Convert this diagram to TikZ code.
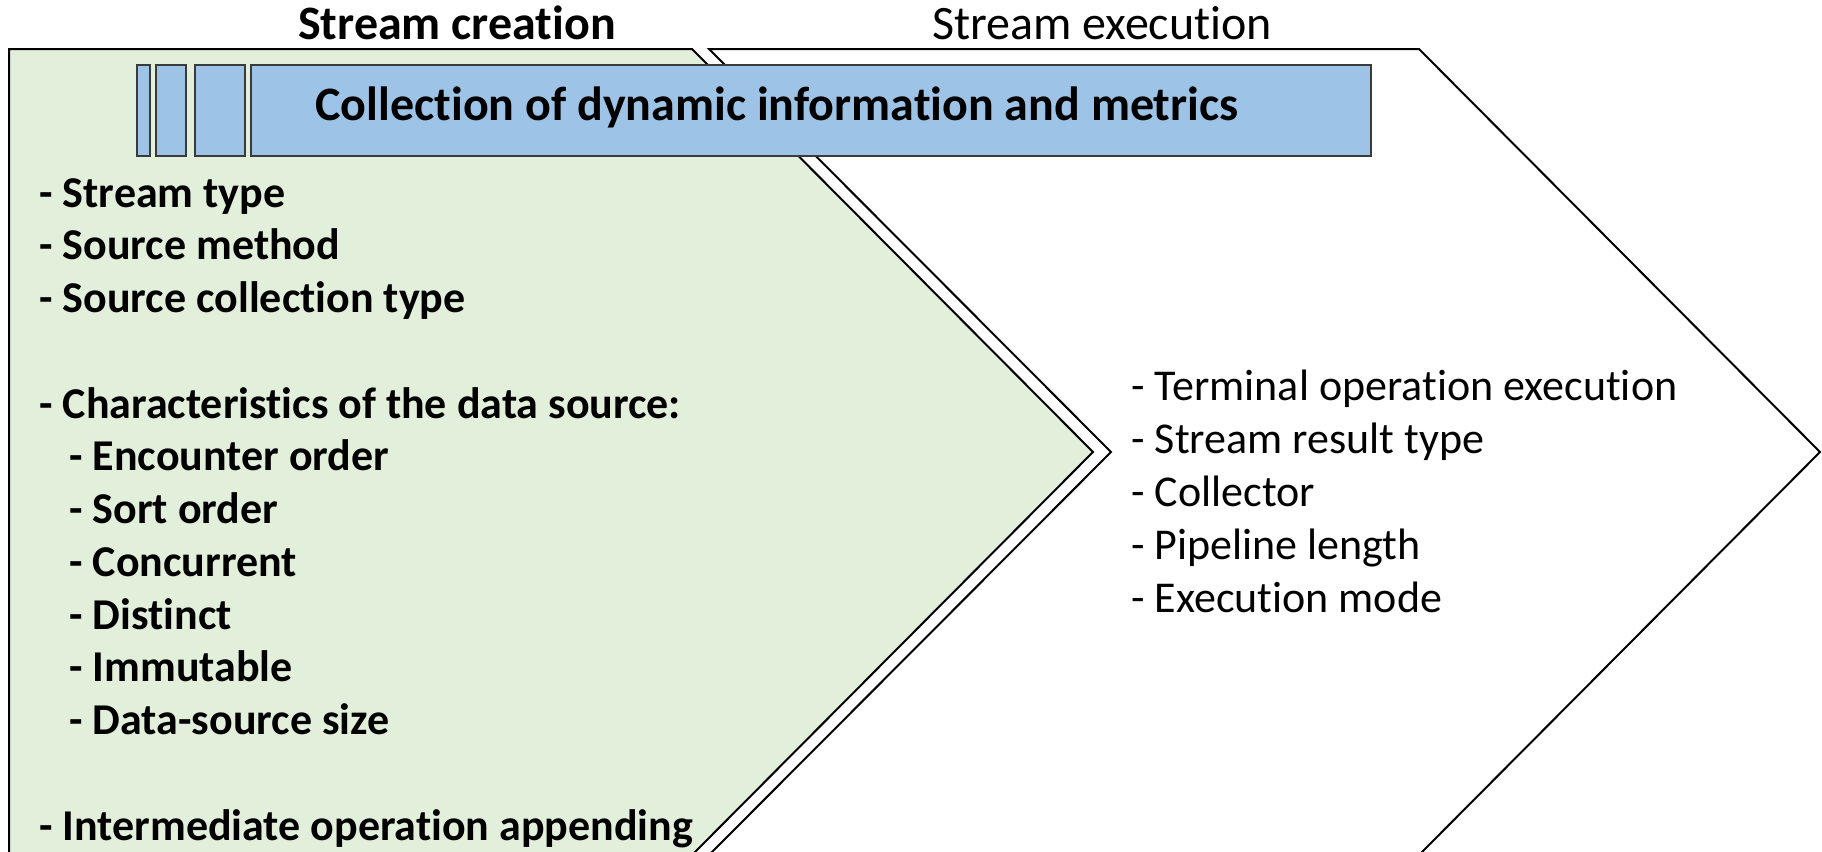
\documentclass[tikz,border=0pt]{standalone}
\usepackage{fontspec}
\setmainfont{Carlito}[Ligatures=CommonOff]
\definecolor{creategreen}{HTML}{E2EFDA}
\definecolor{bannerblue}{HTML}{9DC3E6}
\definecolor{bannerline}{HTML}{3A3A3A}
\begin{document}
\begin{tikzpicture}[x=0.5pt,y=-0.5pt,
  outline/.style={draw=black,line width=1pt,line join=miter},
  bar/.style={draw=bannerline,line width=0.9pt,fill=bannerblue},
  heading/.style={anchor=base,inner sep=0pt,font=\fontsize{24}{29}\selectfont},
  banner/.style={anchor=base,inner sep=0pt,font=\fontsize{24}{29}\selectfont\bfseries},
  leftitem/.style={anchor=base west,inner sep=0pt,font=\fontsize{22}{26}\selectfont\bfseries},
  rightitem/.style={anchor=base west,inner sep=0pt,font=\fontsize{22}{26}\selectfont}]
\useasboundingbox (0,0) rectangle (1822,852);
\clip (0,0) rectangle (1822,852);

% stream execution chevron (behind)
\draw[outline,fill=white] (709,49) -- (1419,49) -- (1820,452) -- (1419,855)
  -- (709,855) -- (1111,452) -- cycle;
% stream creation chevron
\draw[outline,fill=creategreen] (9,49) -- (692,49) -- (1093,452) -- (692,855)
  -- (9,855) -- cycle;

% banner with its leading stripes
\draw[bar] (137,65) rectangle (150,156);
\draw[bar] (156,65) rectangle (186,156);
\draw[bar] (195,65) rectangle (245,156);
\draw[bar] (251,65) rectangle (1371,156);
\node[banner] (bannertext) at (777,120) {Collection of dynamic information and metrics};

% phase headings
\node[heading,font=\fontsize{24}{29}\selectfont\bfseries] (creation) at (457,39) {Stream creation};
\node[heading] (execution) at (1102,39) {Stream execution};

% stream creation items
\node[leftitem] (c1)  at (39,207)    {- Stream type};
\node[leftitem] (c2)  at (39,259.75) {- Source method};
\node[leftitem] (c3)  at (39,312.5)  {- Source collection type};
\node[leftitem] (c4)  at (39,418)    {- Characteristics of the data source:};
\node[leftitem] (c5)  at (69,470.75) {- Encounter order};
\node[leftitem] (c6)  at (69,523.5)  {- Sort order};
\node[leftitem] (c7)  at (69,576.25) {- Concurrent};
\node[leftitem] (c8)  at (69,629)    {- Distinct};
\node[leftitem] (c9)  at (69,681.75) {- Immutable};
\node[leftitem] (c10) at (69,734.5)  {- Data-source size};
\node[leftitem] (c11) at (39,840)    {- Intermediate operation appending};

% stream execution items
\node[rightitem] (e1) at (1131,400) {- Terminal operation execution};
\node[rightitem] (e2) at (1131,453) {- Stream result type};
\node[rightitem] (e3) at (1131,506) {- Collector};
\node[rightitem] (e4) at (1131,559) {- Pipeline length};
\node[rightitem] (e5) at (1131,612) {- Execution mode};
\end{tikzpicture}
\end{document}
